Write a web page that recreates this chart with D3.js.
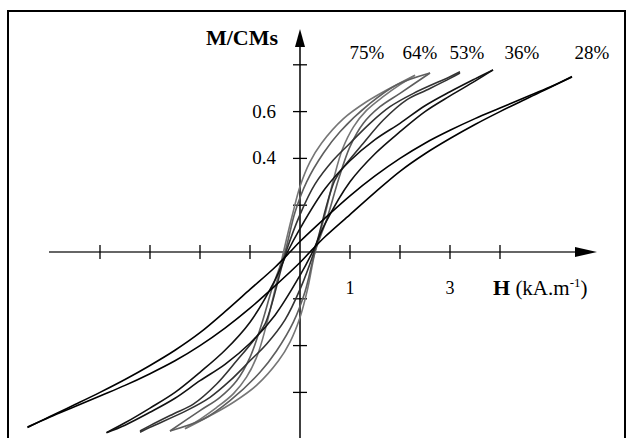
<!DOCTYPE html>
<html><head><meta charset="utf-8">
<script src="https://cdn.jsdelivr.net/npm/d3@7"></script>
<style>html,body{margin:0;padding:0;background:#fff}svg{display:block}</style>
</head><body>
<script>
// ---- data (H in kA/m, M/CMs) ----
const labels = ["75%","64%","53%","36%","28%"];
const colors = ["#767676","#5e5e5e","#333333","#111111","#000000"];
const labelX = [367, 420, 467, 522, 592];
const xTicks = [-4,-3,-2,-1,1,2,3,4];
const xTickLabels = [1,3];
const yTicks = [-0.6,-0.4,-0.2,0.2,0.4,0.6,0.8];
const yTickLabels = [0.4,0.6];

const up75 = [[-2.30,-0.755],[-2.0,-0.715],[-1.67,-0.665],[-1.33,-0.605],[-1.07,-0.535],[-0.85,-0.44],[-0.67,-0.31],[-0.5,-0.16],[-0.33,0.0],[-0.15,0.16],[0.0,0.28],[0.2,0.385],[0.43,0.465],[0.87,0.57],[1.33,0.642],[1.8,0.70],[2.3,0.756]];
const lo75 = [[-2.3,-0.756],[-1.8,-0.70],[-1.33,-0.642],[-0.87,-0.57],[-0.43,-0.465],[-0.2,-0.385],[0.0,-0.28],[0.15,-0.16],[0.3,0.0],[0.5,0.16],[0.67,0.31],[0.85,0.44],[1.07,0.535],[1.33,0.605],[1.67,0.665],[2.0,0.715],[2.3,0.755]];
const up64 = [[-2.6,-0.765],[-2.0,-0.678],[-1.6,-0.621],[-1.267,-0.55],[-1.0,-0.45],[-0.767,-0.308],[-0.55,-0.15],[-0.30,0.0],[-0.1,0.17],[0.133,0.3],[0.467,0.422],[0.8,0.514],[1.4,0.635],[1.93,0.714],[2.6,0.765]];
const lo64 = [[-2.6,-0.765],[-1.93,-0.714],[-1.4,-0.635],[-0.8,-0.514],[-0.467,-0.422],[-0.133,-0.3],[0.1,-0.17],[0.3,0.0],[0.55,0.15],[0.767,0.308],[1.0,0.45],[1.267,0.55],[1.6,0.621],[2.0,0.678],[2.6,0.765]];
const up53 = [[-3.2,-0.765],[-3.0,-0.742],[-2.533,-0.692],[-2.133,-0.65],[-1.667,-0.564],[-1.267,-0.465],[-0.933,-0.379],[-0.7,-0.308],[-0.28,0.0],[0.0,0.16],[0.3,0.29],[0.667,0.393],[1.0,0.465],[1.4,0.55],[1.8,0.621],[2.27,0.678],[3.0,0.749],[3.2,0.77]];
const lo53 = [[-3.2,-0.77],[-3.0,-0.749],[-2.27,-0.678],[-1.8,-0.621],[-1.4,-0.55],[-1.0,-0.465],[-0.667,-0.393],[-0.3,-0.29],[0.0,-0.16],[0.28,0.0],[0.7,0.308],[0.933,0.379],[1.267,0.465],[1.667,0.564],[2.133,0.65],[2.533,0.692],[3.0,0.742],[3.2,0.765]];
const up36 = [[-3.87,-0.772],[-3.5,-0.73],[-3.0,-0.667],[-2.5,-0.60],[-2.0,-0.514],[-1.5,-0.42],[-1.0,-0.30],[-0.5,-0.12],[-0.25,0.0],[0.0,0.10],[0.5,0.27],[1.0,0.39],[1.5,0.48],[2.0,0.55],[2.5,0.625],[3.0,0.685],[3.5,0.74],[3.86,0.778]];
const lo36 = [[-3.87,-0.772],[-3.5,-0.74],[-3.0,-0.685],[-2.5,-0.625],[-2.0,-0.55],[-1.5,-0.48],[-1.0,-0.39],[-0.5,-0.27],[0.0,-0.10],[0.25,0.0],[0.5,0.12],[1.0,0.30],[1.5,0.42],[2.0,0.514],[2.5,0.60],[3.0,0.667],[3.5,0.73],[3.86,0.778]];
const up28 = [[-5.45,-0.75],[-5.0,-0.703],[-4.5,-0.652],[-4.0,-0.60],[-3.5,-0.545],[-3.0,-0.485],[-2.5,-0.42],[-2.0,-0.345],[-1.5,-0.255],[-1.0,-0.16],[-0.5,-0.065],[-0.2,0.0],[0.0,0.045],[0.5,0.145],[1.0,0.24],[1.5,0.325],[2.0,0.40],[2.5,0.465],[3.0,0.52],[3.5,0.57],[4.0,0.615],[4.5,0.66],[5.0,0.705],[5.44,0.748]];
const lo28 = [[-5.45,-0.748],[-5.0,-0.705],[-4.5,-0.66],[-4.0,-0.615],[-3.5,-0.57],[-3.0,-0.52],[-2.5,-0.465],[-2.0,-0.40],[-1.5,-0.325],[-1.0,-0.24],[-0.5,-0.145],[0.0,-0.045],[0.2,0.0],[0.5,0.065],[1.0,0.16],[1.5,0.255],[2.0,0.345],[2.5,0.42],[3.0,0.485],[3.5,0.545],[4.0,0.60],[4.5,0.652],[5.0,0.703],[5.44,0.75]];
const loops = [[up75,lo75],[up64,lo64],[up53,lo53],[up36,lo36],[up28,lo28]];

// ---- drawing ----
const W = 632, H = 438;
const svg = d3.select("body").append("svg").attr("width",W).attr("height",H);
const x = d3.scaleLinear().domain([-5,5]).range([50,550]);
const y = d3.scaleLinear().domain([-0.8,0.8]).range([439.2,64.8]);
const X0 = x(0), Y0 = y(0);
const serif = "'Liberation Serif','Times New Roman',serif";

svg.append("rect").attr("x",8).attr("y",11).attr("width",617).attr("height",440)
  .attr("fill","none").attr("stroke","#000").attr("stroke-width",2);

// x axis
const gx = svg.append("g");
gx.append("line").attr("x1",49).attr("x2",578).attr("y1",Y0).attr("y2",Y0).attr("stroke","#333").attr("stroke-width",1.5);
gx.append("path").attr("d",`M575,${Y0-5}L597,${Y0}L575,${Y0+5}Z`).attr("fill","#000");
gx.selectAll("line.t").data(xTicks).join("line").attr("class","t")
  .attr("x1",d=>x(d)).attr("x2",d=>x(d)).attr("y1",Y0-7).attr("y2",Y0+7).attr("stroke","#000").attr("stroke-width",1.3);
gx.selectAll("text").data(xTickLabels).join("text")
  .attr("x",d=>x(d)).attr("y",294).attr("text-anchor","middle")
  .attr("font-family",serif).attr("font-size",18).text(d=>d);

// y axis
const gy = svg.append("g");
gy.append("line").attr("x1",X0).attr("x2",X0).attr("y1",44).attr("y2",438).attr("stroke","#000").attr("stroke-width",1.5);
gy.append("path").attr("d",`M${X0-5},47L${X0},29L${X0+5},47Z`).attr("fill","#000");
gy.selectAll("line.t").data(yTicks).join("line").attr("class","t")
  .attr("x1",X0-7).attr("x2",X0+7).attr("y1",d=>y(d)).attr("y2",d=>y(d)).attr("stroke","#000").attr("stroke-width",1.3);
gy.selectAll("text").data(yTickLabels).join("text")
  .attr("x",276).attr("y",d=>y(d)+6).attr("text-anchor","end")
  .attr("font-family",serif).attr("font-size",19).text(d=>d.toFixed(1));

// axis titles
svg.append("text").attr("x",278).attr("y",45).attr("text-anchor","end")
  .attr("font-family",serif).attr("font-size",22).attr("font-weight","bold").text("M/CMs");
const ht = svg.append("text").attr("x",493).attr("y",295).attr("font-family",serif).attr("font-size",21);
ht.append("tspan").attr("font-weight","bold").attr("font-size",22).text("H");
ht.append("tspan").text(" (kA.m");
ht.append("tspan").attr("font-size",13).attr("dy",-8).text("-1");
ht.append("tspan").attr("dy",8).text(")");

// curves
const line = d3.line().x(d=>x(d[0])).y(d=>y(d[1])).curve(d3.curveCatmullRom);
loops.forEach((lp,i)=>{
  lp.forEach(br=>{
    svg.append("path").attr("d",line(br)).attr("fill","none")
      .attr("stroke",colors[i]).attr("stroke-width",1.6);
  });
});

// loop labels
svg.selectAll("text.lab").data(labels).join("text").attr("class","lab")
  .attr("x",(d,i)=>labelX[i]).attr("y",59).attr("text-anchor","middle")
  .attr("font-family",serif).attr("font-size",19).text(d=>d);
</script>
</body></html>
